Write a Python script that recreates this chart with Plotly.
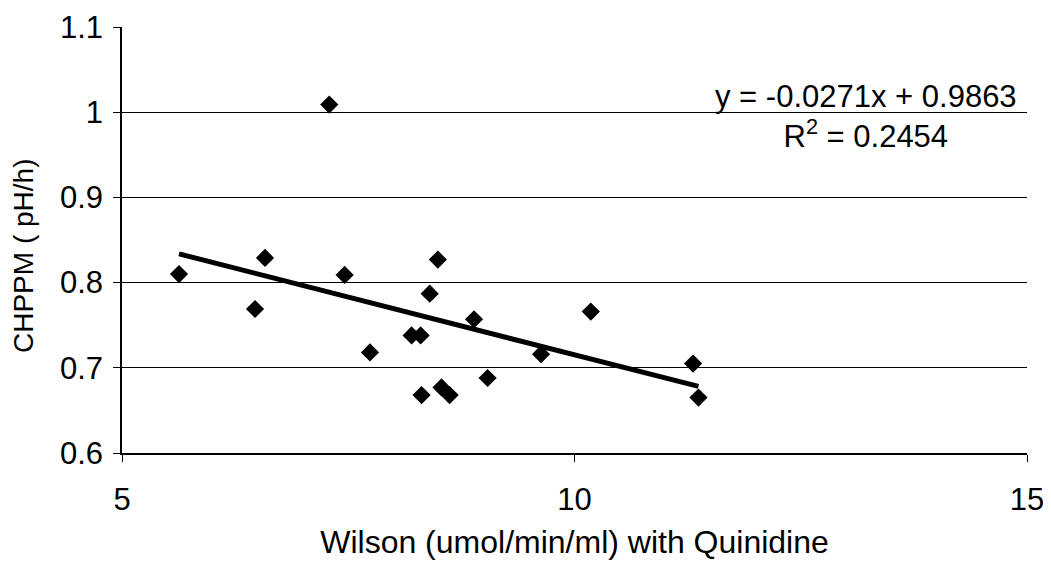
import plotly.graph_objects as go

wilson = [5.63, 6.47, 6.58, 7.29, 7.46, 7.74, 8.20, 8.30, 8.31, 8.40, 8.49, 8.53, 8.62, 8.89, 9.04, 9.63, 10.18, 11.31, 11.37]
chppm = [0.810, 0.769, 0.829, 1.009, 0.809, 0.718, 0.738, 0.738, 0.668, 0.787, 0.827, 0.677, 0.668, 0.757, 0.688, 0.716, 0.766, 0.705, 0.665]
slope = -0.0271
intercept = 0.9863
eq_text = "y = -0.0271x + 0.9863<br>R<sup>2</sup> = 0.2454"
y_title = "CHPPM ( pH/h)"
x_title = "Wilson (umol/min/ml) with Quinidine"

x_fit = [min(wilson), max(wilson)]
y_fit = [slope * v + intercept for v in x_fit]

FONT = "Liberation Sans, Arial, sans-serif"

fig = go.Figure()
fig.add_trace(go.Scatter(x=wilson, y=chppm, mode="markers",
                         marker=dict(symbol="diamond", size=14, color="black"),
                         showlegend=False))
fig.add_trace(go.Scatter(x=x_fit, y=y_fit, mode="lines",
                         line=dict(color="black", width=5), showlegend=False))

fig.update_layout(
    width=1043, height=557,
    margin=dict(l=114, r=24, t=19, b=112),
    paper_bgcolor="white", plot_bgcolor="white",
    font=dict(family=FONT, color="black", size=31),
    annotations=[
        dict(x=13.22, y=0.995, xref="x", yref="y", text=eq_text,
             showarrow=False, align="center", xanchor="center",
             yanchor="middle", font=dict(size=31, family=FONT)),
        dict(x=0, y=0.5, xref="paper", yref="paper", text=y_title,
             textangle=-90, showarrow=False, xanchor="center", yanchor="middle",
             xshift=-99, yshift=-16, font=dict(size=28, family=FONT)),
    ],
)
fig.update_xaxes(range=[5, 15], tickvals=[5, 10, 15], showgrid=False, zeroline=False,
                 showline=True, linecolor="black", linewidth=1.5,
                 ticks="outside", ticklen=7, tickcolor="black",
                 ticklabelstandoff=11, automargin=False,
                 tickfont=dict(size=31),
                 title=dict(text=x_title, standoff=15, font=dict(size=32)))
fig.update_yaxes(range=[0.6, 1.1], tickvals=[0.6, 0.7, 0.8, 0.9, 1.0, 1.1],
                 ticktext=["0.6", "0.7", "0.8", "0.9", "1", "1.1"],
                 showgrid=True, gridcolor="black", gridwidth=1.2, zeroline=False,
                 showline=True, linecolor="black", linewidth=1.5,
                 ticks="outside", ticklen=7, tickcolor="black",
                 ticklabelstandoff=4, automargin=False,
                 tickfont=dict(size=31))
fig.write_html("out.html")
